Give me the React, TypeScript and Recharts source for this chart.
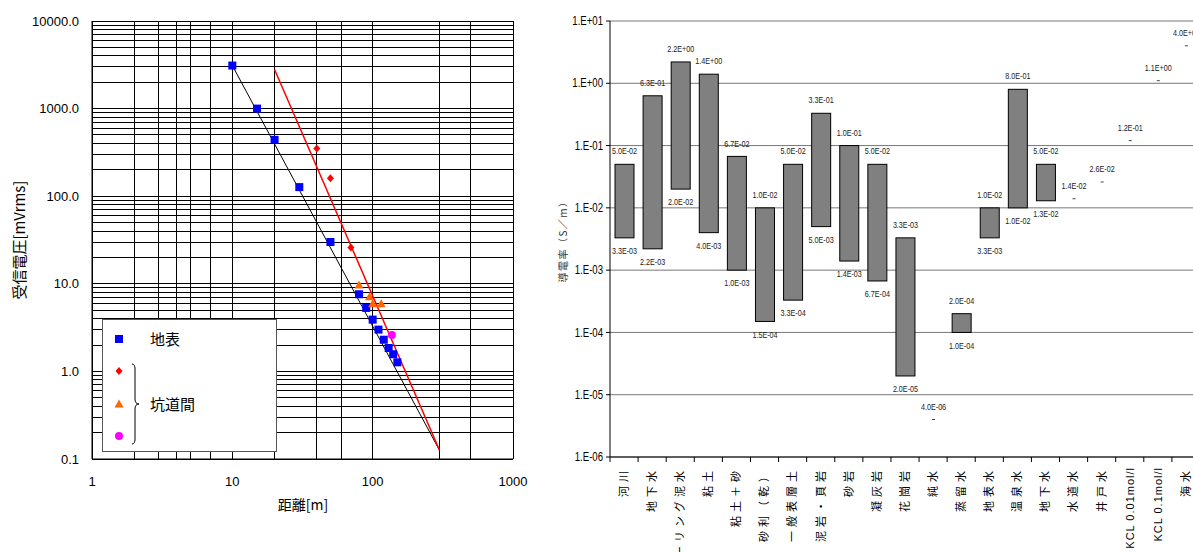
import React from 'react';
import { ScatterChart, Scatter, BarChart, Bar, XAxis, YAxis, CartesianGrid, ReferenceLine } from 'recharts';

// 受信電圧 vs 距離 (left)
const surfaceDistance = [10, 15, 20, 30, 50, 80, 90, 100, 110, 120, 130, 140, 150];
const surfaceVoltage = [3100, 1000, 440, 127, 30, 7.6, 5.3, 3.9, 3.0, 2.3, 1.85, 1.57, 1.27];
const diamondDistance = [40, 50, 70];
const diamondVoltage = [350, 160, 26];
const triangleDistance = [80, 95, 100, 115];
const triangleVoltage = [9.7, 7.1, 5.9, 5.9];
const circleDistance = [137];
const circleVoltage = [2.6];
const surfaceFitDistance = [10, 300];
const surfaceFitVoltage = [3100, 0.125];
const tunnelFitDistance = [20, 300];
const tunnelFitVoltage = [2800, 0.125];
const distanceTicks = [1, 10, 100, 1000];
const voltageTicks = [0.1, 1, 10, 100, 1000, 10000];

// 導電率 (right)
const materials = [
  '河川', '地下水', 'ボーリング泥水', '粘土', '粘土＋砂', '砂利（乾）', '一般表層土',
  '泥岩・頁岩', '砂岩', '凝灰岩', '花崗岩', '純水', '蒸留水', '地表水', '温泉水',
  '地下水', '水道水', '井戸水', 'KCL 0.01mol/l', 'KCL 0.1mol/l', '海水',
];
const lowValues = [
  3.3e-3, 2.2e-3, 2.0e-2, 4.0e-3, 1.0e-3, 1.5e-4, 3.3e-4, 5.0e-3, 1.4e-3, 6.7e-4, 2.0e-5,
  4.0e-6, 1.0e-4, 3.3e-3, 1.0e-2, 1.3e-2, 1.4e-2, 2.6e-2, 1.2e-1, 1.1, 4.0,
];
const highValues = [
  5.0e-2, 6.3e-1, 2.2, 1.4, 6.7e-2, 1.0e-2, 5.0e-2, 3.3e-1, 1.0e-1, 5.0e-2, 3.3e-3,
  4.0e-6, 2.0e-4, 1.0e-2, 8.0e-1, 5.0e-2, 1.4e-2, 2.6e-2, 1.2e-1, 1.1, 4.0,
];
const conductivityTicks = [1e-6, 1e-5, 1e-4, 1e-3, 1e-2, 1e-1, 1, 10];

const SANS = '"Liberation Sans", Arial, sans-serif';
const JP = '"Noto Sans CJK JP", "Noto Sans", sans-serif';

const pts = (xs: number[], ys: number[]) => xs.map((x, i) => ({ x, y: ys[i] }));

// minor log grid values for each decade
const logGrid = (from: number, to: number) => {
  const out: number[] = [];
  for (let d = from; d < to * 0.99; d *= 10) {
    for (let k = 1; k < 10; k++) out.push(+(d * k).toPrecision(3));
  }
  out.push(to);
  return out;
};

const fmtSci = (v: number) => {
  const [m, e] = v.toExponential(1).split('e');
  const n = parseInt(e, 10);
  return `${m}E${n < 0 ? '-' : '+'}${String(Math.abs(n)).padStart(2, '0')}`;
};

const fmtAxis = (v: number) => {
  const n = Math.round(Math.log10(v));
  return `1.E${n < 0 ? '-' : '+'}${String(Math.abs(n)).padStart(2, '0')}`;
};

const Square = ({ cx, cy }: any) => <rect x={cx - 4} y={cy - 4} width={8} height={8} fill="#0000FF" />;
const Diamond = ({ cx, cy }: any) => (
  <polygon points={`${cx},${cy - 4} ${cx + 3.5},${cy} ${cx},${cy + 4} ${cx - 3.5},${cy}`} fill="#FF0000" />
);
const Triangle = ({ cx, cy }: any) => (
  <polygon points={`${cx},${cy - 4.5} ${cx + 4.5},${cy + 3.5} ${cx - 4.5},${cy + 3.5}`} fill="#FF6600" />
);
const Dot = ({ cx, cy }: any) => <circle cx={cx} cy={cy} r={4} fill="#FF00FF" />;
const NoMark = () => <g />;

const DistanceChart = () => (
  <div style={{ position: 'absolute', left: 0, top: 0, width: 540, height: 552 }}>
    <ScatterChart width={540} height={552} margin={{ top: 21, right: 27, bottom: 33, left: 32 }}>
      <CartesianGrid
        stroke="#000"
        shapeRendering="crispEdges"
        horizontal={false}
        verticalValues={logGrid(1, 1000)}
      />
      {logGrid(0.1, 10000).map((v) => (
        <ReferenceLine key={v} y={v} stroke="#000" shapeRendering="crispEdges" />
      ))}
      <XAxis
        type="number"
        dataKey="x"
        scale="log"
        domain={[1, 1000]}
        ticks={distanceTicks}
        allowDataOverflow
        height={60}
        tickLine={false}
        tickSize={6}
        tickMargin={12}
        axisLine={{ stroke: '#000' }}
        tick={{ fontSize: 13, fill: '#000', fontFamily: SANS }}
        label={() => (
          <text x={303} y={510} textAnchor="middle" fontSize={14} fontFamily={JP} fill="#000">
            距離[m]
          </text>
        )}
      />
      <YAxis
        type="number"
        dataKey="y"
        scale="log"
        domain={[0.1, 10000]}
        ticks={voltageTicks}
        allowDataOverflow
        width={60}
        tickLine={false}
        tickSize={6}
        tickMargin={7}
        axisLine={{ stroke: '#000' }}
        tickFormatter={(v: number) => v.toFixed(1)}
        tick={{ fontSize: 13, fill: '#000', fontFamily: SANS }}
        label={() => (
          <text
            x={18}
            y={240}
            transform="rotate(-90 18 240)"
            textAnchor="middle"
            dominantBaseline="central"
            fontSize={15}
            fontFamily={JP}
            fill="#000"
          >
            受信電圧[mVrms]
          </text>
        )}
      />
      <Scatter data={pts(surfaceFitDistance, surfaceFitVoltage)} line={{ stroke: '#000', strokeWidth: 1 }} shape={NoMark} isAnimationActive={false} />
      <Scatter data={pts(tunnelFitDistance, tunnelFitVoltage)} line={{ stroke: '#FF0000', strokeWidth: 1.5 }} shape={NoMark} isAnimationActive={false} />
      <Scatter data={pts(surfaceDistance, surfaceVoltage)} shape={Square} isAnimationActive={false} />
      <Scatter data={pts(diamondDistance, diamondVoltage)} shape={Diamond} isAnimationActive={false} />
      <Scatter data={pts(triangleDistance, triangleVoltage)} shape={Triangle} isAnimationActive={false} />
      <Scatter data={pts(circleDistance, circleVoltage)} shape={Dot} isAnimationActive={false} />
    </ScatterChart>
    <div
      style={{
        position: 'absolute', left: 102, top: 319, width: 173, height: 131,
        border: '1px solid #555', background: '#fff', fontFamily: JP, fontSize: 15, color: '#000',
      }}
    >
      <svg width={60} height={131} style={{ position: 'absolute', left: 0, top: 0 }}>
        <rect x={12} y={15} width={8} height={8} fill="#0000FF" />
        <polygon points="16,47 19.5,51 16,55 12.5,51" fill="#FF0000" />
        <polygon points="16,79.5 20.5,87.5 11.5,87.5" fill="#FF6600" />
        <circle cx={16} cy={116} r={4} fill="#FF00FF" />
        <path d="M29,44 Q32,44 32,49 L32,79 Q32,84 36,84 Q32,84 32,89 L32,119 Q32,124 29,124" fill="none" stroke="#000" strokeWidth={1} />
      </svg>
      <div style={{ position: 'absolute', left: 47, top: 9, lineHeight: '20px' }}>地表</div>
      <div style={{ position: 'absolute', left: 47, top: 74, lineHeight: '20px' }}>坑道間</div>
    </div>
  </div>
);

const conductivityData = materials.map((name, i) => ({
  name,
  low: lowValues[i],
  high: highValues[i],
  range: [lowValues[i], highValues[i]],
}));

const PLOT_W = 590;
const band = PLOT_W / materials.length;

const SmallLabel = ({ x, y, value }: { x: number; y: number; value: number }) => (
  <text
    transform={`translate(${x},${y}) scale(0.8,1)`}
    textAnchor="middle"
    dy="0.35em"
    fontSize={9}
    fontFamily={SANS}
    fill="#222"
  >
    {fmtSci(value)}
  </text>
);

const RangeShape = (props: any) => {
  const { x, y, width, height, payload } = props;
  const cx = x + width / 2;
  if (payload.low === payload.high) {
    return (
      <g>
        <line x1={cx - 1.5} x2={cx + 1.5} y1={y} y2={y} stroke="#444" strokeWidth={1} />
        <SmallLabel x={cx} y={y - 13} value={payload.high} />
      </g>
    );
  }
  return (
    <g>
      <rect x={x} y={y} width={width} height={height} fill="#808080" stroke="#000" strokeWidth={1} />
      <SmallLabel x={cx} y={y - 13} value={payload.high} />
      <SmallLabel x={cx} y={y + height + 13} value={payload.low} />
    </g>
  );
};

const PowerTick = ({ x, y, payload }: any) => (
  <text
    transform={`translate(${x},${y}) scale(0.8,1)`}
    textAnchor="end"
    dy="0.35em"
    fontSize={12}
    fontFamily={SANS}
    fill="#000"
  >
    {fmtAxis(payload.value)}
  </text>
);

const CategoryTick = ({ x, y, payload, index }: any) => {
  const label = String(payload.value);
  const latin = /[A-Za-z]/.test(label);
  const half = band / 2;
  return (
    <g>
      <line x1={x + half} x2={x + half} y1={y - 10} y2={y - 5} stroke="#000" />
      {index === 0 && <line x1={x - half} x2={x - half} y1={y - 10} y2={y - 5} stroke="#000" />}
      <text
        transform={`translate(${x},${y}) rotate(-90)`}
        textAnchor="end"
        dy="0.35em"
        fontSize={11}
        letterSpacing={latin ? 1 : 4}
        fontFamily={latin ? SANS : JP}
        fill="#000"
      >
        {label}
      </text>
    </g>
  );
};

const ConductivityChart = () => (
  <div style={{ position: 'absolute', left: 540, top: 0, width: 700, height: 552 }}>
    <BarChart
      width={700}
      height={552}
      data={conductivityData}
      margin={{ top: 21, right: 700 - 70 - PLOT_W, bottom: 5, left: 10 }}
      barSize={19}
    >
      <CartesianGrid vertical={false} stroke="#777" />
      <XAxis
        dataKey="name"
        interval={0}
        height={90}
        tickLine={false}
        tickSize={4}
        tickMargin={6}
        axisLine={{ stroke: '#000' }}
        tick={CategoryTick}
      />
      <YAxis
        type="number"
        scale="log"
        domain={[1e-6, 10]}
        ticks={conductivityTicks}
        allowDataOverflow
        width={60}
        tickSize={4}
        tickMargin={3}
        tickLine={{ stroke: '#000' }}
        axisLine={{ stroke: '#000' }}
        tick={PowerTick}
        label={() => (
          <text
            x={22}
            y={239}
            transform="rotate(-90 22 239)"
            textAnchor="middle"
            dominantBaseline="central"
            fontSize={10}
            letterSpacing={1.5}
            fontFamily={JP}
            fill="#333"
          >
            導電率（S／m）
          </text>
        )}
      />
      <Bar dataKey="range" shape={RangeShape} isAnimationActive={false} />
    </BarChart>
  </div>
);

export default function App() {
  return (
    <div
      style={{
        position: 'fixed', left: 0, top: 0, width: 1193, height: 552,
        overflow: 'hidden', background: '#fff',
      }}
    >
      <DistanceChart />
      <ConductivityChart />
    </div>
  );
}
